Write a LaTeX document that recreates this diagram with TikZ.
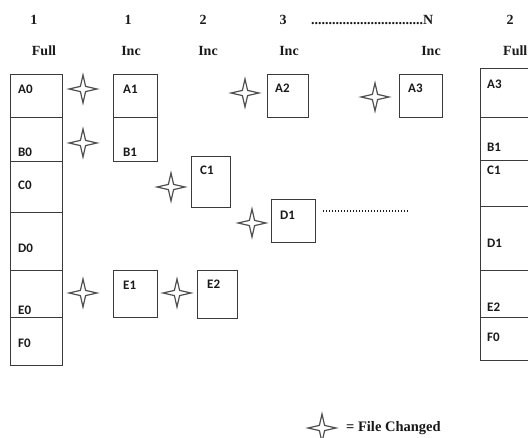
\documentclass[tikz,border=0pt]{standalone}
\usepackage{fontspec}
\setmainfont{Liberation Serif}
\newfontfamily\boxfont{Carlito}
\definecolor{linec}{HTML}{3A3A3A}
\definecolor{starc}{HTML}{505050}
\definecolor{txtc}{HTML}{1A1A1A}
\begin{document}
\begin{tikzpicture}[x=1pt,y=-1pt,
  box/.style={draw=linec, line width=1pt, inner sep=0pt, outer sep=0pt, anchor=north west},
  lbl/.style={font=\boxfont\bfseries\fontsize{13}{13}\selectfont, text=txtc, anchor=west, inner sep=0pt},
  hdr/.style={font=\bfseries\fontsize{14}{14}\selectfont, text=txtc, inner sep=0pt},
  fstar/.pic={\draw[starc, line width=1.2pt, line join=miter, fill=white]
     (0,-14) -- (2.6,-2.6) -- (14,0) -- (2.6,2.6) -- (0,14) -- (-2.6,2.6) -- (-14,0) -- (-2.6,-2.6) -- cycle;}
]
\useasboundingbox[fill=white] (0,0) rectangle (528,438);

% header
\node[hdr] (h1) at (34,20) {1};
\node[hdr] (h1b) at (44,51) {Full};
\node[hdr] (h2) at (128,20) {1};
\node[hdr] (h2b) at (131,51) {Inc};
\node[hdr] (h3) at (203,20) {2};
\node[hdr] (h3b) at (208,51) {Inc};
\node[hdr] (h4) at (283,20) {3};
\node[hdr] (h4b) at (289,51) {Inc};
\node[hdr, anchor=west] (h5) at (311,20) {................................N};
\node[hdr] (h5b) at (431,51) {Inc};
\node[hdr] (h6) at (510,20) {2};
\node[hdr, anchor=west] (h6b) at (503,51) {Full};

% left full column
\node[box, minimum width=52pt, minimum height=43pt] (a0) at (10,75) {};
\node[box, minimum width=52pt, minimum height=44pt] (b0) at (10,118) {};
\node[box, minimum width=52pt, minimum height=51pt] (c0) at (10,162) {};
\node[box, minimum width=52pt, minimum height=58pt] (d0) at (10,213) {};
\node[box, minimum width=52pt, minimum height=47pt] (e0) at (10,271) {};
\node[box, minimum width=52pt, minimum height=48pt] (f0) at (10,318) {};
\node[lbl] (la0) at (18,89) {A0};
\node[lbl] (lb0) at (18,152) {B0};
\node[lbl] (lc0) at (18,185) {C0};
\node[lbl] (ld0) at (18,248) {D0};
\node[lbl] (le0) at (18,310) {E0};
\node[lbl] (lf0) at (18,343) {F0};

% incremental 1
\node[box, minimum width=44pt, minimum height=43pt] (a1) at (113,75) {};
\node[box, minimum width=44pt, minimum height=44pt] (b1) at (113,118) {};
\node[box, minimum width=44pt, minimum height=47pt] (e1) at (113,271) {};
\node[lbl] (la1) at (123,89) {A1};
\node[lbl] (lb1) at (123,152) {B1};
\node[lbl] (le1) at (123,285) {E1};

% incremental 2
\node[box, minimum width=39pt, minimum height=51pt] (c1) at (191,157) {};
\node[box, minimum width=40pt, minimum height=48pt] (e2) at (197,271) {};
\node[lbl] (lc1) at (200,170) {C1};
\node[lbl] (le2) at (207,284) {E2};

% incremental 3
\node[box, minimum width=41pt, minimum height=43pt] (a2) at (267,75) {};
\node[box, minimum width=44pt, minimum height=43pt] (d1) at (271,200) {};
\node[lbl] (la2) at (275,88) {A2};
\node[lbl] (ld1) at (280,215) {D1};
\coordinate (dotsA) at (323,211);
\coordinate (dotsB) at (408,211);
\draw[txtc, line width=1.3pt, dash pattern=on 1.3pt off 1.7pt] (dotsA) -- (dotsB);

% incremental N
\node[box, minimum width=43pt, minimum height=43pt] (a3) at (399,75) {};
\node[lbl] (la3) at (408,88) {A3};

% right full column
\node[box, minimum width=55pt, minimum height=49pt] (ra3) at (480,69) {};
\node[box, minimum width=55pt, minimum height=43pt] (rb1) at (480,118) {};
\node[box, minimum width=55pt, minimum height=46pt] (rc1) at (480,161) {};
\node[box, minimum width=55pt, minimum height=64pt] (rd1) at (480,207) {};
\node[box, minimum width=55pt, minimum height=47pt] (re2) at (480,271) {};
\node[box, minimum width=55pt, minimum height=43pt] (rf0) at (480,318) {};
\node[lbl] (lra3) at (487,84) {A3};
\node[lbl] (lrb1) at (487,147) {B1};
\node[lbl] (lrc1) at (487,170) {C1};
\node[lbl] (lrd1) at (487,243) {D1};
\node[lbl] (lre2) at (487,307) {E2};
\node[lbl] (lrf0) at (487,337) {F0};

% change markers
\pic at (83,89) {fstar};
\pic at (83,143) {fstar};
\pic at (83,293) {fstar};
\pic at (177,293) {fstar};
\pic at (171,187) {fstar};
\pic at (252,223) {fstar};
\pic at (245,93) {fstar};
\pic at (375,97) {fstar};

% legend
\pic at (322,428) {fstar};
\node[hdr, anchor=west, font=\bfseries\fontsize{14.5}{14.5}\selectfont] (leg) at (346,428) {= File Changed};
\end{tikzpicture}
\end{document}
